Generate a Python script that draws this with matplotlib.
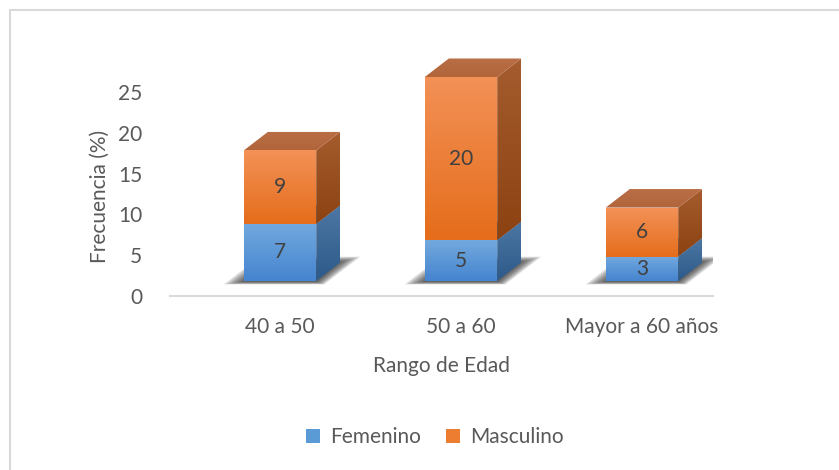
import matplotlib
matplotlib.use("Agg")
import matplotlib.pyplot as plt
import matplotlib.transforms as mtransforms
from matplotlib.patches import Polygon, Rectangle, Patch
from matplotlib.colors import to_rgb
import numpy as np

categories = ["40 a 50", "50 a 60", "Mayor a 60 años"]
femenino = [7, 5, 3]
masculino = [9, 20, 6]
yticks = [0, 5, 10, 15, 20, 25]

plt.rcParams["font.family"] = ["Lato", "DejaVu Sans"]
TXT = "#595959"
FS = 15

fig = plt.figure(figsize=(8.39, 4.70), dpi=100)
ax = fig.add_axes([170 / 839, 174 / 470, 543 / 839, 256 / 470])
ax.set_xlim(-110 / 181, 2 + 71 / 181)
ax.set_ylim(0, 256 / 8.16)

# bars sit a little above the floor line, like the excel 3d chart
trans = mtransforms.offset_copy(ax.transData, fig=fig, x=0, y=15, units="dots")

w = 0.40
dx = 24 / 181
dy = 18.5 / 8.16


def shaded(verts, top, bot, z):
    poly = Polygon(verts, closed=True, transform=trans, facecolor="none", edgecolor="none")
    ax.add_patch(poly)
    xs = [v[0] for v in verts]
    ys = [v[1] for v in verts]
    g = np.linspace(0, 1, 64)[:, None, None]
    img = np.array(to_rgb(top)) * (1 - g) + np.array(to_rgb(bot)) * g
    im = ax.imshow(img, extent=(min(xs), max(xs), min(ys), max(ys)), origin="upper",
                   aspect="auto", transform=trans, zorder=z, interpolation="bilinear")
    im.set_clip_path(poly)


def box(x, y0, y1, front, side, top, z):
    l, r = x - w / 2, x + w / 2
    shaded([(l, y0), (r, y0), (r, y1), (l, y1)], front[0], front[1], z)
    shaded([(r, y0), (r + dx, y0 + dy), (r + dx, y1 + dy), (r, y1)], side[0], side[1], z)
    shaded([(l, y1), (r, y1), (r + dx, y1 + dy), (l + dx, y1 + dy)], top[0], top[1], z)


blue = (("#72a9de", "#4584cf"), ("#4d77a3", "#2c5a8a"), ("#5a86b8", "#4f7cae"))
orange = (("#f39157", "#e56d1b"), ("#a55c2e", "#8c4211"), ("#b96e45", "#b2653b"))

for i in range(len(categories)):
    l, r = i - w / 2, i + w / 2
    # soft shadow on the floor
    for k in range(7):
        ex = (2 + 3 * k) / 181
        eb = (1 + 0.4 * k) / 8.16
        et = (1 + 0.8 * k) / 8.16
        ax.add_patch(Polygon([(l - ex, -eb), (r + ex * 0.4, -eb), (r + dx + ex, dy + et),
                              (l + dx - ex * 0.4, dy + et)], closed=True, transform=trans,
                             facecolor="#202020", edgecolor="none", alpha=0.15, zorder=1))
    f = femenino[i]
    m = masculino[i]
    box(i, 0, f, *blue, z=2 + i)
    box(i, f, f + m, *orange, z=2 + i)
    ax.text(i, f / 2, str(f), transform=trans, ha="center", va="center",
            fontsize=FS, color="#404040", zorder=10)
    ax.text(i, f + m / 2, str(m), transform=trans, ha="center", va="center",
            fontsize=FS, color="#404040", zorder=10)

ax.set_xticks(range(len(categories)))
ax.set_xticklabels(categories)
ax.set_yticks(yticks)
ax.tick_params(axis="both", length=0, labelsize=FS, labelcolor=TXT)
ax.tick_params(axis="y", pad=20)
ax.tick_params(axis="x", pad=15)
for s in ["top", "right", "left"]:
    ax.spines[s].set_visible(False)
ax.spines["bottom"].set_color("#d9d9d9")
ax.spines["bottom"].set_linewidth(1.5)
ax.set_xlabel("Rango de Edad", fontsize=FS, color=TXT)
ax.set_ylabel("Frecuencia (%)", fontsize=FS, color=TXT)
ax.xaxis.set_label_coords(0.5, -0.235)
ax.yaxis.set_label_coords(-0.11, 0.39)
ax.patch.set_visible(False)

handles = [Patch(facecolor="#5b9bd5", label="Femenino"),
           Patch(facecolor="#ed7d31", label="Masculino")]
fig.legend(handles=handles, loc="center", bbox_to_anchor=(435 / 839, 1 - 437 / 470),
           ncol=2, frameon=False, fontsize=FS, labelcolor=TXT,
           handlelength=0.65, handleheight=0.65, handletextpad=0.5, columnspacing=1.2)

fig.add_artist(Rectangle((10 / 839, -0.1), 1.1, 1.1 - 10 / 470, transform=fig.transFigure,
                         fill=False, edgecolor="#d9d9d9", linewidth=1.5))

fig.savefig("out.png", dpi=100)
